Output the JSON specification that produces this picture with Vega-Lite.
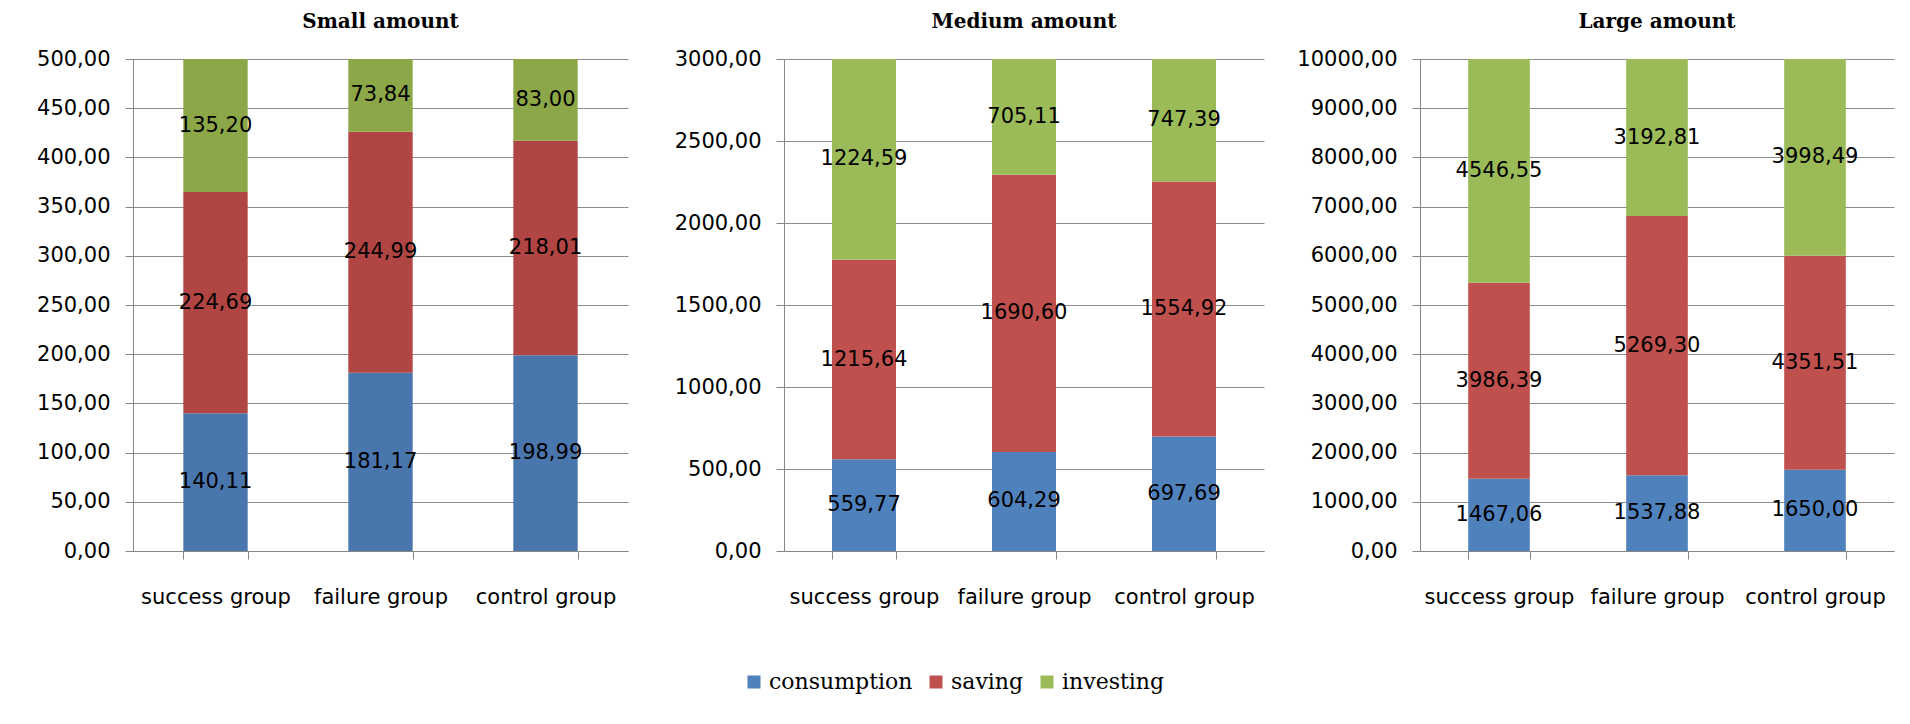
{
  "$schema": "https://vega.github.io/schema/vega-lite/v6.json",
  "padding": {"left": 36, "top": 12, "right": 10, "bottom": 10},
  "background": "white",
  "config": {
    "locale": {"number": {"decimal": ",", "thousands": ".", "grouping": [3], "currency": ["", ""]}},
    "view": {"stroke": null},
    "axisY": {
      "domain": true, "domainColor": "#868686", "grid": true, "gridColor": "#8c8c8c",
      "ticks": true, "tickColor": "#868686", "tickSize": 8, "labelPadding": 15,
      "labelFont": "DejaVu Sans", "labelFontSize": 21, "labelColor": "#000", "title": null, "format": ".2f"
    },
    "axisX": {
      "domain": true, "domainColor": "#868686", "grid": false, "ticks": true, "tickColor": "#868686",
      "tickSize": 8, "tickBand": "extent", "labelPadding": 27, "labelAngle": 0,
      "labelFont": "DejaVu Sans", "labelFontSize": 21, "labelColor": "#000", "title": null
    },
    "title": {"font": "DejaVu Serif", "fontSize": 20, "fontWeight": "bold", "color": "#000", "offset": 16}
  },
  "data": {
    "values": [
      {"panel": "Small amount", "group": "success group", "series": "consumption", "idx": 0, "value": 140.11},
      {"panel": "Small amount", "group": "success group", "series": "saving", "idx": 1, "value": 224.69},
      {"panel": "Small amount", "group": "success group", "series": "investing", "idx": 2, "value": 135.20},
      {"panel": "Small amount", "group": "failure group", "series": "consumption", "idx": 0, "value": 181.17},
      {"panel": "Small amount", "group": "failure group", "series": "saving", "idx": 1, "value": 244.99},
      {"panel": "Small amount", "group": "failure group", "series": "investing", "idx": 2, "value": 73.84},
      {"panel": "Small amount", "group": "control group", "series": "consumption", "idx": 0, "value": 198.99},
      {"panel": "Small amount", "group": "control group", "series": "saving", "idx": 1, "value": 218.01},
      {"panel": "Small amount", "group": "control group", "series": "investing", "idx": 2, "value": 83.00},
      {"panel": "Medium amount", "group": "success group", "series": "consumption", "idx": 0, "value": 559.77},
      {"panel": "Medium amount", "group": "success group", "series": "saving", "idx": 1, "value": 1215.64},
      {"panel": "Medium amount", "group": "success group", "series": "investing", "idx": 2, "value": 1224.59},
      {"panel": "Medium amount", "group": "failure group", "series": "consumption", "idx": 0, "value": 604.29},
      {"panel": "Medium amount", "group": "failure group", "series": "saving", "idx": 1, "value": 1690.60},
      {"panel": "Medium amount", "group": "failure group", "series": "investing", "idx": 2, "value": 705.11},
      {"panel": "Medium amount", "group": "control group", "series": "consumption", "idx": 0, "value": 697.69},
      {"panel": "Medium amount", "group": "control group", "series": "saving", "idx": 1, "value": 1554.92},
      {"panel": "Medium amount", "group": "control group", "series": "investing", "idx": 2, "value": 747.39},
      {"panel": "Large amount", "group": "success group", "series": "consumption", "idx": 0, "value": 1467.06},
      {"panel": "Large amount", "group": "success group", "series": "saving", "idx": 1, "value": 3986.39},
      {"panel": "Large amount", "group": "success group", "series": "investing", "idx": 2, "value": 4546.55},
      {"panel": "Large amount", "group": "failure group", "series": "consumption", "idx": 0, "value": 1537.88},
      {"panel": "Large amount", "group": "failure group", "series": "saving", "idx": 1, "value": 5269.30},
      {"panel": "Large amount", "group": "failure group", "series": "investing", "idx": 2, "value": 3192.81},
      {"panel": "Large amount", "group": "control group", "series": "consumption", "idx": 0, "value": 1650.00},
      {"panel": "Large amount", "group": "control group", "series": "saving", "idx": 1, "value": 4351.51},
      {"panel": "Large amount", "group": "control group", "series": "investing", "idx": 2, "value": 3998.49}
    ]
  },
  "spacing": 156,
  "bounds": "flush",
  "resolve": {"scale": {"color": "independent", "y": "independent", "x": "independent"}, "legend": {"color": "independent"}},
  "hconcat": [
    {
      "width": 495, "height": 492,
      "title": {"text": "Small amount"},
      "transform": [{"filter": "datum.panel === 'Small amount'"}],
      "encoding": {
        "x": {"field": "group", "type": "nominal", "sort": ["success group", "failure group", "control group"], "scale": {"paddingInner": 0.61, "paddingOuter": 0.305}},
        "order": {"field": "idx", "type": "quantitative"}
      },
      "layer": [
        {
          "mark": {"type": "bar"},
          "encoding": {
            "y": {"field": "value", "type": "quantitative", "stack": "zero", "scale": {"domain": [0, 500], "nice": false}, "axis": {"values": [0, 50, 100, 150, 200, 250, 300, 350, 400, 450, 500]}},
            "color": {"field": "series", "type": "nominal", "scale": {"domain": ["consumption", "saving", "investing"], "range": ["#4A76AE", "#B04543", "#8CA747"]}, "legend": null}
          }
        },
        {
          "mark": {"type": "text", "font": "DejaVu Sans", "fontSize": 21, "color": "#000", "baseline": "middle", "align": "center"},
          "encoding": {
            "y": {"field": "value", "type": "quantitative", "stack": "zero", "bandPosition": 0.5},
            "detail": {"field": "series", "type": "nominal"},
            "text": {"field": "value", "type": "quantitative", "format": ".2f"}
          }
        }
      ]
    },
    {
      "width": 480, "height": 492,
      "title": {"text": "Medium amount"},
      "transform": [{"filter": "datum.panel === 'Medium amount'"}],
      "encoding": {
        "x": {"field": "group", "type": "nominal", "sort": ["success group", "failure group", "control group"], "scale": {"paddingInner": 0.6, "paddingOuter": 0.3}},
        "order": {"field": "idx", "type": "quantitative"}
      },
      "layer": [
        {
          "mark": {"type": "bar"},
          "encoding": {
            "y": {"field": "value", "type": "quantitative", "stack": "zero", "scale": {"domain": [0, 3000], "nice": false}, "axis": {"values": [0, 500, 1000, 1500, 2000, 2500, 3000]}},
            "color": {"field": "series", "type": "nominal", "scale": {"domain": ["consumption", "saving", "investing"], "range": ["#4F81BD", "#C0504D", "#9BBB59"]},
              "legend": {"orient": "none", "legendX": -41, "legendY": 612, "direction": "horizontal", "title": null, "symbolType": "square", "symbolSize": 169, "symbolStrokeWidth": 0, "symbolOpacity": 1, "labelFont": "DejaVu Serif", "labelFontSize": 22, "labelColor": "#000", "labelOffset": 4, "columnPadding": 12, "padding": 0}}
          }
        },
        {
          "mark": {"type": "text", "font": "DejaVu Sans", "fontSize": 21, "color": "#000", "baseline": "middle", "align": "center"},
          "encoding": {
            "y": {"field": "value", "type": "quantitative", "stack": "zero", "bandPosition": 0.5},
            "detail": {"field": "series", "type": "nominal"},
            "text": {"field": "value", "type": "quantitative", "format": ".2f"}
          }
        }
      ]
    },
    {
      "width": 474, "height": 492,
      "title": {"text": "Large amount"},
      "transform": [{"filter": "datum.panel === 'Large amount'"}],
      "encoding": {
        "x": {"field": "group", "type": "nominal", "sort": ["success group", "failure group", "control group"], "scale": {"paddingInner": 0.61, "paddingOuter": 0.305}},
        "order": {"field": "idx", "type": "quantitative"}
      },
      "layer": [
        {
          "mark": {"type": "bar"},
          "encoding": {
            "y": {"field": "value", "type": "quantitative", "stack": "zero", "scale": {"domain": [0, 10000], "nice": false}, "axis": {"values": [0, 1000, 2000, 3000, 4000, 5000, 6000, 7000, 8000, 9000, 10000]}},
            "color": {"field": "series", "type": "nominal", "scale": {"domain": ["consumption", "saving", "investing"], "range": ["#4F81BD", "#C0504D", "#9BBB59"]}, "legend": null}
          }
        },
        {
          "mark": {"type": "text", "font": "DejaVu Sans", "fontSize": 21, "color": "#000", "baseline": "middle", "align": "center"},
          "encoding": {
            "y": {"field": "value", "type": "quantitative", "stack": "zero", "bandPosition": 0.5},
            "detail": {"field": "series", "type": "nominal"},
            "text": {"field": "value", "type": "quantitative", "format": ".2f"}
          }
        }
      ]
    }
  ]
}
